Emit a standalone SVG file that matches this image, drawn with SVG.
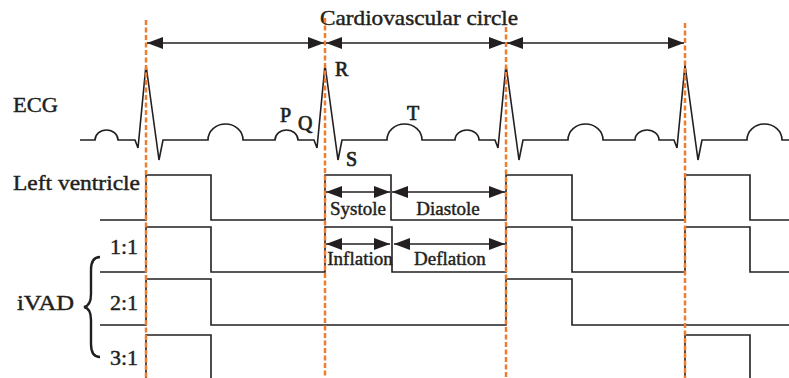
<svg xmlns="http://www.w3.org/2000/svg" width="789" height="378" viewBox="0 0 789 378">
<defs>
<style>
.w{fill:none;stroke:#231f20;stroke-width:1.6;stroke-linejoin:miter}
.t{font-family:"Liberation Serif","Times New Roman",serif;fill:#231f20;stroke:#231f20;stroke-width:0.45}
.big{font-size:22px}
.sm{font-size:19px}
.pk{font-size:20px;stroke-width:0.7}
.ds{stroke:#ed7d31;stroke-width:2.5;stroke-dasharray:5,2.5;fill:none}
.ar{stroke:#231f20;stroke-width:1.5;fill:none;marker-start:url(#ah);marker-end:url(#ah)}
</style>
<marker id="ah" markerUnits="userSpaceOnUse" markerWidth="17" markerHeight="12" refX="16" refY="6" orient="auto-start-reverse">
<path d="M0,0 L16,6 L0,12 Z" fill="#231f20"/>
</marker>
</defs>
<rect width="789" height="378" fill="#ffffff"/>

<g id="ecg">
<path class="w" d="M80,140 H95 A11.5,10 0 0 1 118,140 H135 L138,148 L146,65 L159,160 L163,140 H208 A17.5,16 0 0 1 243,140 H275 A11.5,10 0 0 1 298,140 H314 L317,148 L325,65 L338,160 L342,140 H387 A17.5,16 0 0 1 422,140 H455 A12,10 0 0 1 479,140 H495 L498,148 L506,65 L519,160 L523,140 H568 A17.5,16 0 0 1 603,140 H635 A12,10 0 0 1 659,140 H674 L677,148 L685,65 L698,160 L702,140 H747 A17.5,16 0 0 1 782,140 H789"/>
<text class="t big" x="13" y="112" textLength="45" lengthAdjust="spacingAndGlyphs">ECG</text>
<text class="t pk" x="280" y="122">P</text>
<text class="t pk" x="298" y="130">Q</text>
<text class="t pk" x="335" y="76">R</text>
<text class="t pk" x="346" y="166">S</text>
<text class="t pk" x="407" y="120">T</text>
</g>

<g id="left-ventricle">
<path class="w" d="M100,220 H146 V175 H211 V220 H325 V175 H391 V220 H506 V175 H572 V220 H685 V175 H750 V220 H789"/>
<text class="t big" x="13" y="190" textLength="127" lengthAdjust="spacingAndGlyphs">Left ventricle</text>
<text class="t sm" x="358" y="215" text-anchor="middle">Systole</text>
<text class="t sm" x="448" y="215" text-anchor="middle">Diastole</text>
</g>

<g id="ivad-1-1">
<path class="w" d="M100,272 H146 V227 H211 V272 H325 V227 H392 V272 H506 V227 H572 V272 H685 V227 H750 V272 H789"/>
<text class="t big" x="110" y="254">1:1</text>
<text class="t sm" x="360" y="265" text-anchor="middle">Inflation</text>
<text class="t sm" x="450" y="265" text-anchor="middle">Deflation</text>
</g>

<g id="ivad-2-1">
<path class="w" d="M100,325 H146 V279 H211 V325 H506 V279 H572 V325 H789"/>
<text class="t big" x="110" y="310">2:1</text>
</g>

<g id="ivad-3-1">
<path class="w" d="M146,378 V335 H211 V378 M685,378 V335 H750 V378"/>
<text class="t big" x="110" y="365">3:1</text>
</g>

<g id="ivad-label">
<text class="t big" x="17" y="310" textLength="57" lengthAdjust="spacingAndGlyphs">iVAD</text>
<path d="M100,257 C93,257 91,262 91,270 V294 C91,302 89,306 84,307 C89,308 91,312 91,320 V344 C91,352 93,357 100,357" fill="none" stroke="#231f20" stroke-width="2.4"/>
</g>

<g id="title">
<text class="t big" x="419" y="25" text-anchor="middle" textLength="198" lengthAdjust="spacingAndGlyphs">Cardiovascular circle</text>
</g>

<g id="connectors">
<line class="ds" x1="146" y1="20" x2="146" y2="378"/>
<line class="ds" x1="325" y1="18" x2="325" y2="378"/>
<line class="ds" x1="506" y1="27" x2="506" y2="378"/>
<line class="ds" x1="685" y1="23" x2="685" y2="378"/>
<line class="ar" x1="147" y1="43" x2="324" y2="43"/>
<line class="ar" x1="326" y1="43" x2="505" y2="43"/>
<line class="ar" x1="507" y1="43" x2="684" y2="43"/>
<line class="ar" x1="326" y1="192" x2="390" y2="192"/>
<line class="ar" x1="392" y1="192" x2="505" y2="192"/>
<line class="ar" x1="326" y1="244" x2="390" y2="244"/>
<line class="ar" x1="394" y1="244" x2="505" y2="244"/>
</g>
</svg>
